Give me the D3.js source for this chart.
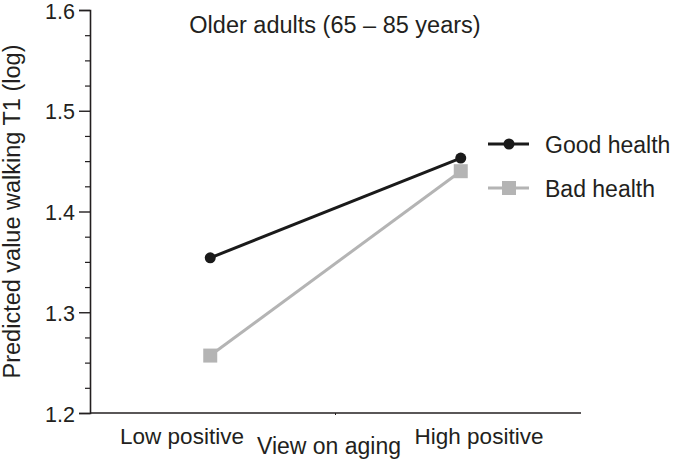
<!DOCTYPE html>
<html>
<head>
<meta charset="utf-8">
<script src="https://cdn.jsdelivr.net/npm/d3@7"></script>
<style>
  html, body { margin: 0; padding: 0; background: #fff; }
  svg { display: block; font-family: "Liberation Sans", Arial, Helvetica, sans-serif; }
</style>
</head>
<body>
<svg id="chart" width="673" height="464"></svg>
<script>
const categories = ["Low positive", "High positive"];
const seriesNames = ["Good health", "Bad health"];
const goodHealth = [1.354, 1.453];
const badHealth = [1.257, 1.440];
const yTicks = [1.2, 1.3, 1.4, 1.5, 1.6];
const yMinorTicks = [1.225, 1.25, 1.275, 1.325, 1.35, 1.375, 1.425, 1.45, 1.475, 1.525, 1.55, 1.575];
const title = "Older adults (65 \u2013 85 years)";
const xTitle = "View on aging";
const yTitle = "Predicted value walking T1 (log)";

const svg = d3.select("#chart");
const textColor = "#231f20";
const plotLeft = 90, plotRight = 581, plotTop = 10, plotBottom = 413;

const x = d3.scalePoint().domain(categories).range([plotLeft, plotRight]).padding(0.48);
const xLabel = d3.scalePoint().domain(categories).range([182, 479]);
const y = d3.scaleLinear().domain([1.2, 1.6]).range([plotBottom, plotTop]);

// Y axis
const yAxis = d3.axisLeft(y).tickValues(yTicks).tickFormat(d3.format(".1f")).tickSize(11).tickPadding(4);
const gy = svg.append("g").attr("transform", `translate(${plotLeft},0)`).call(yAxis);
gy.select(".domain").attr("stroke", textColor).attr("stroke-width", 1.6);
gy.selectAll(".tick line").attr("stroke", textColor).attr("stroke-width", 1.4);
gy.selectAll(".tick text").attr("fill", textColor).attr("font-size", 21.5).attr("dy", "0.38em")
  .attr("font-family", "Liberation Sans, Arial, sans-serif");
const gyMinor = svg.append("g").attr("transform", `translate(${plotLeft},0)`)
  .call(d3.axisLeft(y).tickValues(yMinorTicks).tickSize(5).tickFormat(""));
gyMinor.select(".domain").remove();
gyMinor.selectAll(".tick line").attr("stroke", textColor).attr("stroke-width", 1.2);

// X axis line
svg.append("line").attr("x1", plotLeft).attr("x2", plotRight).attr("y1", plotBottom).attr("y2", plotBottom)
  .attr("stroke", textColor).attr("stroke-width", 1.6);
svg.append("line").attr("x1", (plotLeft + plotRight) / 2).attr("x2", (plotLeft + plotRight) / 2)
  .attr("y1", plotBottom).attr("y2", plotBottom + 2).attr("stroke", textColor).attr("stroke-width", 1);

// Category labels
svg.selectAll(".cat").data(categories).enter().append("text")
  .attr("x", d => xLabel(d)).attr("y", 444)
  .attr("text-anchor", "middle").attr("font-size", 22.5).attr("fill", textColor).text(d => d);

// Axis titles
svg.append("text").attr("x", 329).attr("y", 454).attr("text-anchor", "middle")
  .attr("font-size", 23).attr("fill", textColor).text(xTitle);
svg.append("text").attr("transform", `translate(19.5,${(383 + 40) / 2}) rotate(-90)`)
  .attr("text-anchor", "middle").attr("font-size", 23.5).attr("fill", textColor).text(yTitle);
svg.append("text").attr("x", 335).attr("y", 33).attr("text-anchor", "middle")
  .attr("font-size", 23.5).attr("fill", textColor).text(title);

// Lines
const line = d3.line().x((d, i) => x(categories[i])).y(d => y(d));
const black = "#1a1a1a", gray = "#b4b4b4";

svg.append("path").datum(badHealth).attr("d", line).attr("fill", "none")
  .attr("stroke", gray).attr("stroke-width", 3);
svg.selectAll(".bad").data(badHealth).enter().append("rect")
  .attr("x", (d, i) => x(categories[i]) - 7).attr("y", d => y(d) - 7)
  .attr("width", 14).attr("height", 14).attr("fill", gray);

svg.append("path").datum(goodHealth).attr("d", line).attr("fill", "none")
  .attr("stroke", black).attr("stroke-width", 3);
svg.selectAll(".good").data(goodHealth).enter().append("circle")
  .attr("cx", (d, i) => x(categories[i])).attr("cy", d => y(d))
  .attr("r", 5.5).attr("fill", black);

// Legend
const legend = svg.append("g");
const legY = d3.scalePoint().domain(seriesNames).range([144, 188]);
seriesNames.forEach((name, i) => {
  const yy = legY(name);
  const col = i === 0 ? black : gray;
  legend.append("line").attr("x1", 488).attr("x2", 529).attr("y1", yy).attr("y2", yy)
    .attr("stroke", col).attr("stroke-width", 3);
  if (i === 0) {
    legend.append("circle").attr("cx", 509).attr("cy", yy).attr("r", 5.5).attr("fill", col);
  } else {
    legend.append("rect").attr("x", 502).attr("y", yy - 7).attr("width", 14).attr("height", 14).attr("fill", col);
  }
  legend.append("text").attr("x", 545).attr("y", yy + 9).attr("font-size", 23)
    .attr("fill", textColor).text(name);
});
</script>
</body>
</html>
